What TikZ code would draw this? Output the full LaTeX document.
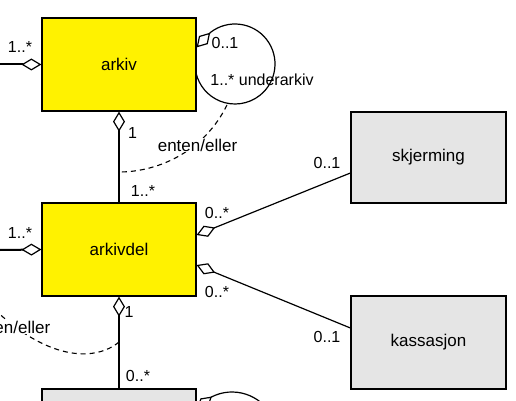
\documentclass[tikz,border=0pt]{standalone}
\usepackage{fontspec}
\setmainfont{Liberation Sans}
\usetikzlibrary{arrows.meta, calc}

\begin{document}
\begin{tikzpicture}[x=1pt, y=-1pt,
        klasse/.style={draw=black, line width=1.2pt, minimum width=154pt, minimum height=93pt, inner sep=0pt, font=\fontsize{17}{20}\selectfont},
        gul/.style={klasse, fill=yellow},
        gra/.style={klasse, fill=black!10},
        mult/.style={inner sep=0pt, font=\fontsize{16}{19}\selectfont},
        tykk/.style={line width=2pt},
        tynn/.style={line width=1.2pt},
        aggstart/.style={arrows={Diamond[open, fill=white, length=20pt, width=12pt, line width=1.2pt 0]-}},
        aggslutt/.style={arrows={-Diamond[open, fill=white, length=20pt, width=12pt, line width=1.2pt 0]}},
        valg/.style={line width=1.1pt, dash pattern=on 5pt off 4pt}]
        \clip (0,0) rectangle (516,401);
        % klasser
        \node [gul] (arkiv) at (119,64.5) {arkiv};
        \node [gul] (arkivdel) at (119,249.5) {arkivdel};
        \node [gra] (reg) at (119,435.5) {};
        \node [gra, minimum width=155pt, minimum height=91pt] (skjerming) at (428.5,157.5) {skjerming};
        \node [gra, minimum width=155pt] (kassasjon) at (428.5,342.5) {kassasjon};
        % assosiasjoner
        \coordinate (innA) at (0,64.5);
        \coordinate (innB) at (0,250);
        \draw [tykk, aggslutt] (innA) -- (arkiv.west);
        \draw [tykk, aggslutt] (innB) -- (arkivdel.west);
        \draw [tykk, aggstart] (arkiv.south) -- (arkivdel.north);
        \draw [tykk, aggstart] (arkivdel.south) -- (reg.north);
        \draw [tynn, aggstart] ([yshift=14.5pt]arkivdel.east) -- ([yshift=-15.5pt]skjerming.west);
        \draw [tynn, aggstart] ([yshift=-15.5pt]arkivdel.east) -- ([yshift=14.5pt]kassasjon.west);
        % underarkiv
        \coordinate (lpA) at (235,64);
        \draw [tynn, aggstart] ([yshift=-30pt]arkiv.north east) -- ($(lpA)+(-128:40)$) arc [start angle=-128, end angle=167, radius=40];
        \coordinate (lpR) at (232,437);
        \draw [tynn, aggstart] ([yshift=-21pt]reg.north east) -- ($(lpR)+(-117.4:45)$) arc [start angle=-117.4, end angle=143, radius=45];
        % enten/eller
        \coordinate (valgA) at (227,105);
        \coordinate (valgB) at (119,172);
        \draw [valg] (valgA) .. controls (205,150) and (160,172) .. (valgB);
        \node [inner sep=1pt, fill=white, font=\fontsize{17}{20}\selectfont] (eeA) at (197.5,145) {enten/eller};
        \coordinate (valgC) at (119,342);
        \coordinate (valgD) at (-15,300);
        \draw [valg] (valgC) .. controls (95,362) and (45,362) .. (valgD);
        \node [inner sep=1pt, fill=white, font=\fontsize{17}{20}\selectfont] (eeB) at (10.5,327) {enten/eller};
        % multiplisiteter
        \node [mult] (mA1) at (20,47) {1..*};
        \node [mult] (mA2) at (225,43) {0..1};
        \node [mult] (mA3) at (262,80) {1..* underarkiv};
        \node [mult] (mA4) at (132.5,133) {1};
        \node [mult] (mA5) at (143,191) {1..*};
        \node [mult] (mB1) at (20,233) {1..*};
        \node [mult] (mB2) at (217,213) {0..*};
        \node [mult] (mB3) at (217,292) {0..*};
        \node [mult] (mB4) at (129,312) {1};
        \node [mult] (mB5) at (138,376) {0..*};
        \node [mult] (mS1) at (327,163) {0..1};
        \node [mult] (mK1) at (327,337) {0..1};
\end{tikzpicture}
\end{document}
